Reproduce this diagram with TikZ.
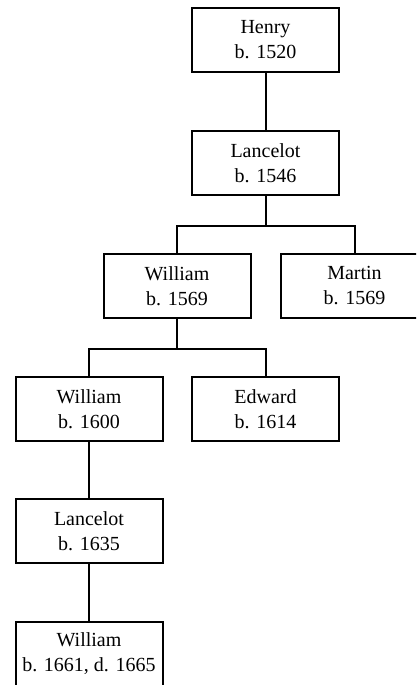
\documentclass[tikz,border=0pt]{standalone}
\usepackage{fontspec}
\setmainfont{Liberation Serif}
\begin{document}
\begin{tikzpicture}[x=1pt,y=-1pt,
  person/.style={draw, line width=2pt, minimum width=147pt, minimum height=64pt,
    inner sep=0pt, align=center, font=\fontsize{20}{25}\selectfont},
  link/.style={line width=2pt}]
\useasboundingbox (0,0) rectangle (416,685);
\clip (0,0) rectangle (416,685);
\node[person] (henry) at (265.5,40) {Henry\\b. 1520};
\node[person] (lance1) at (265.5,163) {Lancelot\\b. 1546};
\node[person] (will1) at (177,286) {William\\b. 1569};
\node[person] (martin) at (354.5,286) {Martin\\b. 1569};
\node[person] (will2) at (89,409) {William\\b. 1600};
\node[person] (edward) at (265.5,409) {Edward\\b. 1614};
\node[person] (lance2) at (89,531) {Lancelot\\b. 1635};
\node[person] (will3) at (89,654) {William\\b. 1661, d. 1665};
\draw[link] (henry.south) -- (lance1.north);
\draw[link] (lance1.south) -- ++(0,29.5) coordinate (bar1) -| (will1.north);
\draw[link] (bar1) -| (martin.north);
\draw[link] (will1.south) -- ++(0,29.5) coordinate (bar2) -| (will2.north);
\draw[link] (bar2) -| (edward.north);
\draw[link] (will2.south) -- (lance2.north);
\draw[link] (lance2.south) -- (will3.north);
\end{tikzpicture}
\end{document}
